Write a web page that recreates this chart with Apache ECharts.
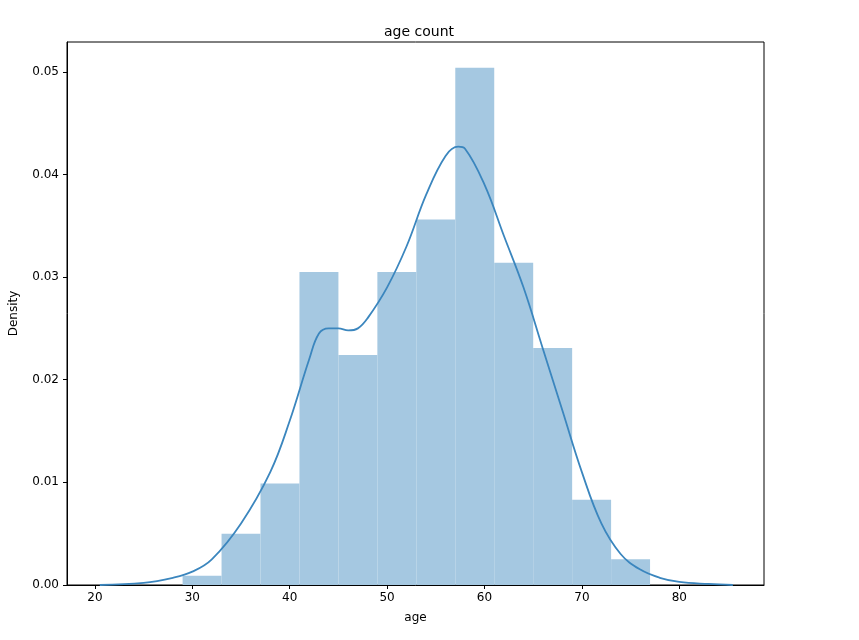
<!DOCTYPE html>
<html><head><meta charset="utf-8">
<script src="https://cdn.jsdelivr.net/npm/echarts@6/dist/echarts.min.js"></script>
<style>html,body{margin:0;padding:0;background:#fff}#c{width:859px;height:640px}</style>
</head><body><div id="c"></div>
<script>
const binEdges = [29,33,37,41,45,49,53,57,61,65,69,73,77];
const binDensity = [0.0009,0.005,0.0099,0.0305,0.0224,0.0305,0.0356,0.0504,0.0314,0.0231,0.0083,0.0025];
const kdeX = [20.5,25,28,30,32,35,38,40,42,43,44,45,46,47,48,50,52,54,56,57.3,58,60,62,64,66,68,70,72,74,76,78,80,83,85.5];
const kdeY = [0,0.0002,0.0007,0.0013,0.0025,0.006,0.011,0.016,0.022,0.0245,0.025,0.025,0.0248,0.025,0.026,0.029,0.033,0.038,0.0418,0.0427,0.0425,0.039,0.034,0.029,0.023,0.017,0.011,0.006,0.003,0.0015,0.0007,0.0003,0.0001,0];
const xTicks = [20,30,40,50,60,70,80];
const yTicks = [0,0.01,0.02,0.03,0.04,0.05];

const bars = binDensity.map((d,i)=>[binEdges[i],binEdges[i+1],d]);
const chart = echarts.init(document.getElementById('c'));
const font = 'DejaVu Sans';
chart.setOption({
  animation:false,
  title:{text:'age count',left:414,top:20,textAlign:'center',textStyle:{fontFamily:font,fontSize:14,fontWeight:'normal',color:'#000'}},
  grid:{left:66,right:95,top:42,bottom:55,show:true,borderColor:'#000',borderWidth:1,backgroundColor:'transparent'},
  xAxis:{type:'value',min:17.13,max:88.7,name:'age',nameLocation:'middle',nameGap:27,
    nameTextStyle:{fontFamily:font,fontSize:12,color:'#000'},
    axisLine:{show:true,lineStyle:{color:'#000'}},splitLine:{show:false},
    axisTick:{show:true,customValues:xTicks,length:4,lineStyle:{color:'#000'}},
    axisLabel:{customValues:xTicks,fontFamily:font,fontSize:12,color:'#000',margin:7}},
  yAxis:{type:'value',min:0,max:0.0529,name:'Density',nameLocation:'middle',nameGap:47,nameRotate:90,
    nameTextStyle:{fontFamily:font,fontSize:12,color:'#000'},
    axisLine:{show:true,lineStyle:{color:'#000'}},splitLine:{show:false},
    axisTick:{show:true,customValues:yTicks,length:4,lineStyle:{color:'#000'}},
    axisLabel:{customValues:yTicks,fontFamily:font,fontSize:12,color:'#000',formatter:v=>v.toFixed(2)}},
  series:[
    {type:'custom',data:bars,renderItem:(params,api)=>{
      const p0=api.coord([api.value(0),api.value(2)]);
      const p1=api.coord([api.value(1),0]);
      return {type:'rect',shape:{x:p0[0],y:p0[1],width:p1[0]-p0[0],height:p1[1]-p0[1]},style:{fill:'#a5c8e1'}};
    },encode:{x:[0,1],y:2}},
    {type:'line',data:kdeX.map((x,i)=>[x,kdeY[i]]),smooth:0.4,showSymbol:false,lineStyle:{color:'#3b86be',width:1.8}}
  ]
});
</script></body></html>
